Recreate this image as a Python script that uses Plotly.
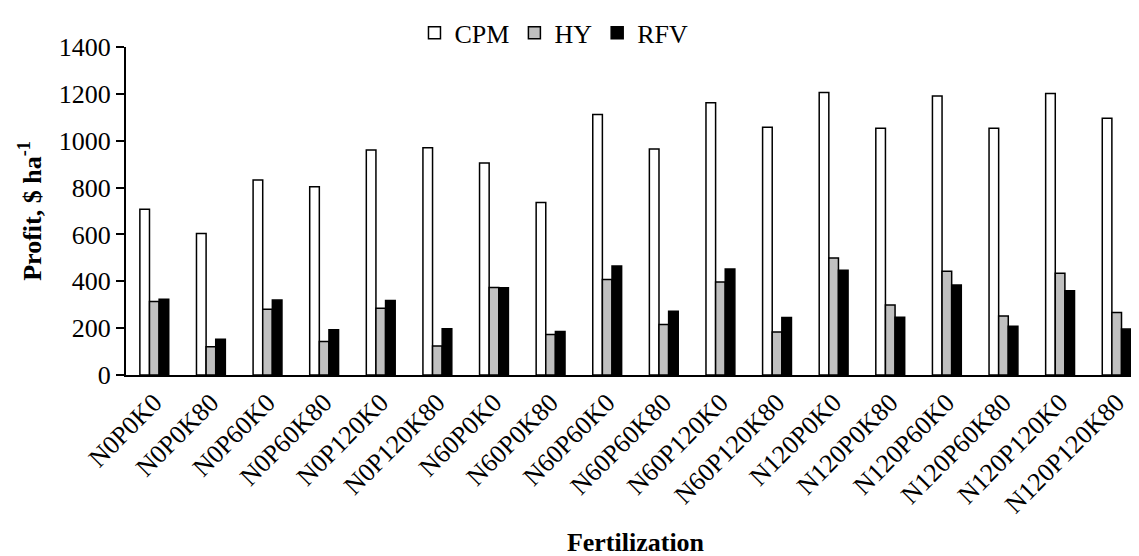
import plotly.graph_objects as go

categories = ["N0P0K0", "N0P0K80", "N0P60K0", "N0P60K80", "N0P120K0", "N0P120K80",
              "N60P0K0", "N60P0K80", "N60P60K0", "N60P60K80", "N60P120K0", "N60P120K80",
              "N120P0K0", "N120P0K80", "N120P60K0", "N120P60K80", "N120P120K0", "N120P120K80"]

cpm = [708, 604, 832, 804, 960, 970, 905, 736, 1112, 965, 1162, 1057,
       1206, 1053, 1191, 1053, 1201, 1096]
hy = [314, 121, 281, 143, 285, 124, 374, 173, 408, 216, 397, 184,
      499, 299, 443, 252, 434, 267]
rfv = [323, 153, 320, 193, 318, 197, 372, 186, 465, 272, 452, 245,
       447, 247, 384, 208, 360, 196]

FONT = "Liberation Serif"

fig = go.Figure()
fig.add_trace(go.Bar(name="CPM", x=categories, y=cpm,
                     marker=dict(color="white", line=dict(color="black", width=1.5))))
fig.add_trace(go.Bar(name="HY", x=categories, y=hy,
                     marker=dict(color="#c0c0c0", line=dict(color="black", width=1.5))))
fig.add_trace(go.Bar(name="RFV", x=categories, y=rfv,
                     marker=dict(color="black", line=dict(color="black", width=1.5))))

fig.update_layout(
    width=1139, height=556,
    margin=dict(l=118, r=2, t=38, b=189),
    paper_bgcolor="white", plot_bgcolor="white",
    font=dict(family=FONT, size=26, color="black"),
    barmode="group", bargap=0.49, bargroupgap=0,
    showlegend=True,
    legend=dict(orientation="h", x=0.42, xanchor="center", y=1.04, yanchor="middle",
                font=dict(family=FONT, size=26, color="black"),
                itemwidth=30, traceorder="normal", bgcolor="rgba(0,0,0,0)"),
    xaxis=dict(
        showline=True, linecolor="black", linewidth=2, ticks="",
        tickangle=-45, tickfont=dict(family=FONT, size=26, color="black"),
        showgrid=False, automargin=False,
        title=dict(text="<b>Fertilization</b>", font=dict(family=FONT, size=26, color="black"),
                   standoff=15),
    ),
    yaxis=dict(
        range=[0, 1400], dtick=200, showline=True, linecolor="black", linewidth=2,
        ticks="outside", ticklen=8, tickwidth=2, tickcolor="black",
        tickfont=dict(family=FONT, size=26, color="black"),
        showgrid=False, zeroline=False, automargin=False,
        title=dict(text="<b>Profit, $ ha<sup>-1</sup></b>",
                   font=dict(family=FONT, size=26, color="black"), standoff=10),
    ),
)

fig.write_html("out.html")
